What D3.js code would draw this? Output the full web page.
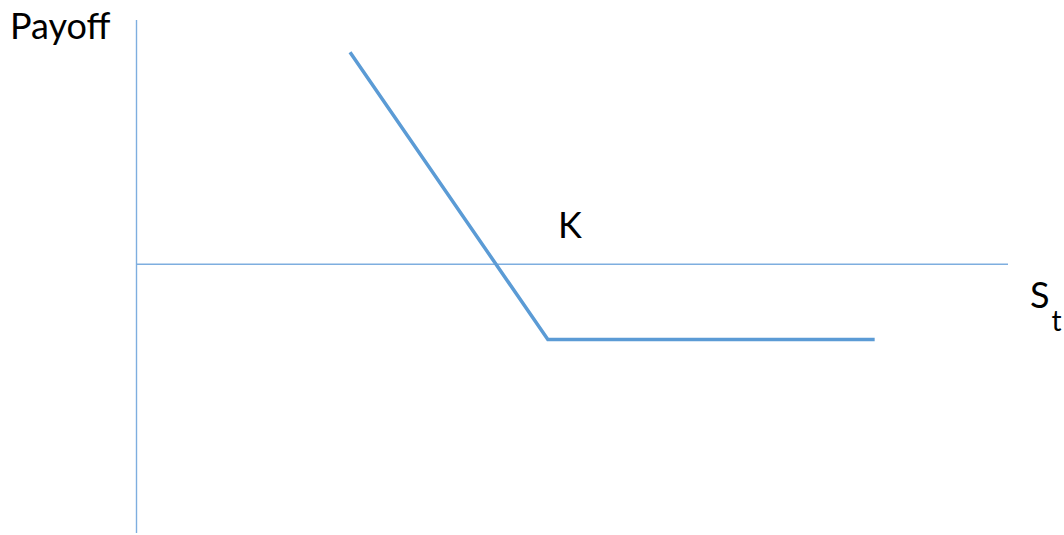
<!DOCTYPE html>
<html>
<head>
<meta charset="utf-8">
<script src="https://cdn.jsdelivr.net/npm/d3@7"></script>
<style>
  body { margin: 0; background: #fff; }
  text { font-family: Lato, "Open Sans", sans-serif; fill: #000; }
</style>
</head>
<body>
<div id="chart"></div>
<script>
"use strict";

// payoff diagram: stock price at expiry vs payoff
var stockPrices = [24.5, 47.2, 84.7];
var payoffs = [43.4, -15.4, -15.4];
var strikeLabel = "K";
var yLabel = "Payoff";
var xLabel = "S";
var xLabelSub = "t";

var width = 1064, height = 535;

var svg = d3.select("#chart")
        .append("svg")
        .attr("width", width)
        .attr("height", height);

var x = d3.scaleLinear()
        .domain([0, 100])
        .range([136.5, 1008]);

var y = d3.scaleLinear()
        .domain([-55, 50])
        .range([533, 20]);

// axes drawn as plain lines through the origin
svg.append("line")
        .attr("x1", x(0)).attr("x2", x(0))
        .attr("y1", y(50)).attr("y2", y(-55))
        .attr("stroke", "#7eaedf")
        .attr("stroke-width", 1.4);

svg.append("line")
        .attr("x1", x(0)).attr("x2", x(100))
        .attr("y1", y(0)).attr("y2", y(0))
        .attr("stroke", "#7eaedf")
        .attr("stroke-width", 1.4);

// payoff line
var data = stockPrices.map(function (s, i) { return { s: s, p: payoffs[i] }; });

svg.append("path")
        .datum(data)
        .attr("fill", "none")
        .attr("stroke", "#5b9bd5")
        .attr("stroke-width", 3.5)
        .attr("d", d3.line()
                .x(function (d) { return x(d.s); })
                .y(function (d) { return y(d.p); }));

// labels
svg.append("text")
        .attr("x", 10)
        .attr("y", 39)
        .style("font-size", "36px")
        .text(yLabel);

svg.append("text")
        .attr("x", 558)
        .attr("y", 238)
        .style("font-size", "36px")
        .text(strikeLabel);

var st = svg.append("text")
        .attr("x", 1030)
        .attr("y", 308)
        .style("font-size", "36px");
st.append("tspan").text(xLabel);
st.append("tspan")
        .attr("dx", 2)
        .attr("dy", 23)
        .style("font-size", "28px")
        .text(xLabelSub);
</script>
</body>
</html>
